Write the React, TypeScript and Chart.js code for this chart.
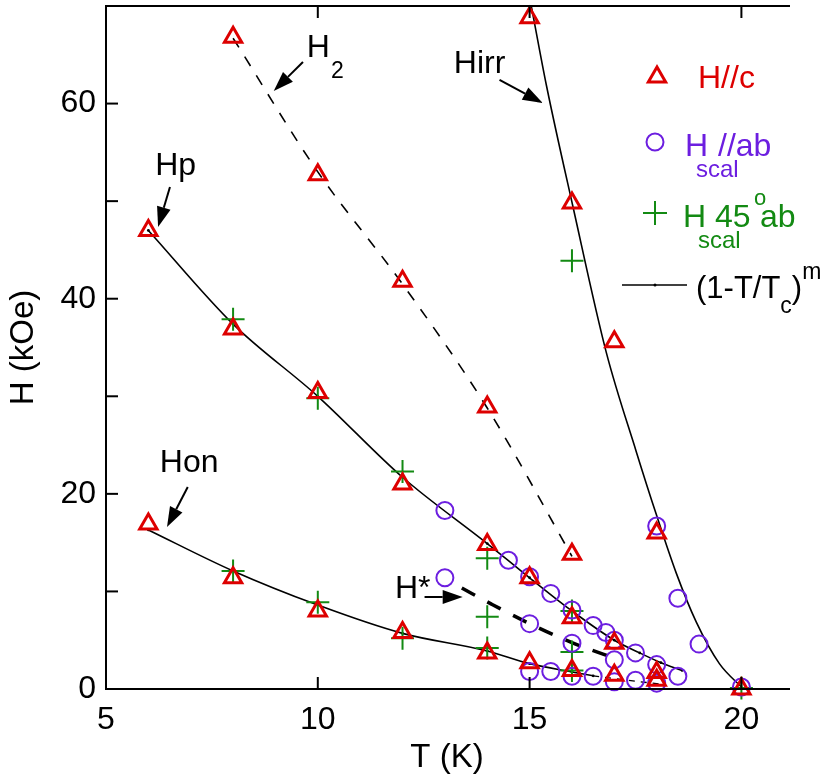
import React, { useEffect, useRef } from 'react';
import { Chart, registerables } from 'chart.js';
Chart.register(...registerables);

const FONT = "'Liberation Sans', Arial, Helvetica, sans-serif";
const RED = '#dd0000';
const PURPLE = '#6c1ee0';
const GREEN = '#138a13';

// H//c (red triangles)
const hcT = [6, 6, 8, 8, 8, 10, 10, 10, 12, 12, 12, 14, 14, 14, 15, 15, 15, 16, 16, 16, 16, 17, 17, 17, 18, 18, 18, 20];
const hcH = [47.0, 16.9, 66.8, 36.9, 11.4, 52.7, 30.4, 8.0, 41.8, 21.0, 5.8, 28.9, 14.8, 3.7, 68.8, 11.4, 2.7, 49.8, 13.8, 7.3, 1.9, 35.6, 4.7, 1.4, 16.0, 1.7, 0.9, 0.0];

// H_scal //ab (purple circles)
const habT = [13, 13, 14.5, 15, 15, 15, 15.5, 15.5, 16, 16, 16, 16.5, 16.5, 16.8, 17, 17, 17, 17.5, 17.5, 18, 18, 18, 18.5, 18.5, 19, 20];
const habH = [18.3, 11.4, 13.2, 11.5, 6.7, 1.8, 9.8, 1.8, 8.1, 4.7, 1.3, 6.5, 1.3, 5.8, 5.0, 3.0, 0.75, 3.7, 0.9, 16.7, 2.5, 0.6, 9.3, 1.3, 4.6, 0.2];

// H_scal 45deg ab (green pluses)
const h45T = [8, 8, 10, 10, 12, 12, 14, 14, 14, 16, 16, 16, 16, 20];
const h45H = [37.9, 12.1, 29.8, 8.9, 22.3, 5.2, 13.4, 7.4, 4.2, 43.9, 8.0, 3.8, 1.9, 0.1];

// fitted curves (1-T/Tc)^m
const hpT = [6, 8, 10, 12, 14, 15, 16, 17, 17.6, 18.1, 18.6];
const hpH = [47.0, 37.4, 30.0, 21.7, 14.9, 11.4, 8.0, 5.0, 3.7, 2.7, 1.9];
const honT = [6, 8, 10, 12, 14, 15, 16, 16.5];
const honH = [16.3, 12.1, 8.6, 5.7, 3.9, 2.6, 1.75, 1.35];
const honTailT = [16.5, 17.3, 18.2];
const honTailH = [1.35, 0.9, 0.45];
const hirrT = [15.04, 15.4, 16.02, 16.81, 17.52, 17.99, 18.46, 18.93, 19.48, 20.05];
const hirrH = [70, 61.8, 49.5, 34.5, 24.3, 17.9, 11.9, 6.9, 2.6, 0];
const h2T = [8, 10, 12, 14, 16];
const h2H = [66.7, 53.0, 41.5, 28.8, 13.6];
const hStarT = [13.4, 14.1, 15.0, 16.0, 17.1];
const hStarH = [10.35, 8.7, 6.7, 4.75, 3.0];

const xTicks = [5, 10, 15, 20];
const yTickLabels = [0, 20, 40, 60];

const pts = (xs: number[], ys: number[]) => xs.map((x, i) => ({ x, y: ys[i] }));

const notes = [
  { text: 'Hirr', T: 13.21, H: 63.1 },
  { text: 'Hp', T: 6.16, H: 52.7 },
  { text: 'Hon', T: 6.27, H: 22.2 },
  { text: 'H*', T: 11.82, H: 9.33 },
];
const arrows = [
  { from: [14.29, 62.42], to: [15.31, 60.06] },
  { from: [9.65, 64.26], to: [8.96, 61.29] },
  { from: [6.51, 51.45], to: [6.23, 47.35] },
  { from: [6.93, 20.7], to: [6.44, 16.6] },
  { from: [12.52, 9.43], to: [13.42, 9.43] },
];

function drawArrow(ctx: CanvasRenderingContext2D, x1: number, y1: number, x2: number, y2: number) {
  const ang = Math.atan2(y2 - y1, x2 - x1);
  const hl = 20, hw = 7;
  const bx = x2 - hl * Math.cos(ang), by = y2 - hl * Math.sin(ang);
  ctx.beginPath();
  ctx.moveTo(x1, y1);
  ctx.lineTo(bx, by);
  ctx.lineWidth = 2;
  ctx.strokeStyle = '#000';
  ctx.stroke();
  ctx.beginPath();
  ctx.moveTo(x2, y2);
  ctx.lineTo(bx + hw * Math.sin(ang), by - hw * Math.cos(ang));
  ctx.lineTo(bx - hw * Math.sin(ang), by + hw * Math.cos(ang));
  ctx.closePath();
  ctx.fillStyle = '#000';
  ctx.fill();
}

const overlay = {
  id: 'overlay',
  afterDraw(chart: any) {
    const ctx: CanvasRenderingContext2D = chart.ctx;
    const { left, right, top, bottom } = chart.chartArea;
    const xs = chart.scales.x, ys = chart.scales.y;
    const px = (t: number) => xs.getPixelForValue(t);
    const py = (h: number) => ys.getPixelForValue(h);
    ctx.save();
    ctx.strokeStyle = '#000';
    ctx.lineWidth = 2;
    ctx.setLineDash([]);
    const seg = (a: number, b: number, c: number, d: number) => {
      ctx.beginPath(); ctx.moveTo(a, b); ctx.lineTo(c, d); ctx.stroke();
    };
    // frame: left, bottom, top
    seg(left, top - 1, left, bottom + 1);
    seg(left - 1, bottom, right + 2, bottom);
    seg(left - 1, top, right + 2, top);
    // inward ticks
    xTicks.slice(1).forEach((v) => {
      const X = px(v);
      seg(X, bottom, X, bottom - 12);
      seg(X, top, X, top + 12);
    });
    for (let v = 10; v <= 60; v += 10) {
      const Y = py(v);
      seg(left, Y, left + 12, Y);
    }
    // axis titles
    ctx.fillStyle = '#000';
    ctx.font = `33px ${FONT}`;
    ctx.textAlign = 'center';
    ctx.textBaseline = 'alphabetic';
    ctx.fillText('T (K)', (left + right) / 2, 767);
    ctx.save();
    ctx.translate(33, (top + bottom) / 2);
    ctx.rotate(-Math.PI / 2);
    ctx.fillText('H (kOe)', 0, 0);
    ctx.restore();

    // annotations
    ctx.textAlign = 'left';
    ctx.font = `32px ${FONT}`;
    notes.forEach((n) => ctx.fillText(n.text, px(n.T), py(n.H)));
    // H2 with subscript
    {
      const x0 = px(9.74), y0 = py(64.8);
      ctx.font = `32px ${FONT}`;
      ctx.fillText('H', x0, y0);
      const w = ctx.measureText('H').width;
      ctx.font = `23px ${FONT}`;
      ctx.fillText('2', x0 + w + 1, y0 + 21);
    }
    arrows.forEach((a) => drawArrow(ctx, px(a.from[0]), py(a.from[1]), px(a.to[0]), py(a.to[1])));

    // legend
    {
      const cx = 657, cy = 77, r = 10;
      ctx.beginPath();
      ctx.moveTo(cx, cy - r);
      ctx.lineTo(cx + r * 0.866, cy + r * 0.5);
      ctx.lineTo(cx - r * 0.866, cy + r * 0.5);
      ctx.closePath();
      ctx.strokeStyle = RED; ctx.lineWidth = 3; ctx.stroke();
      ctx.fillStyle = RED;
      ctx.font = `32px ${FONT}`;
      ctx.fillText('H//c', 698, 88);
    }
    {
      ctx.beginPath();
      ctx.arc(655, 142, 8.5, 0, Math.PI * 2);
      ctx.strokeStyle = PURPLE; ctx.lineWidth = 2; ctx.stroke();
      ctx.fillStyle = PURPLE;
      ctx.font = `32px ${FONT}`;
      ctx.fillText('H', 685, 156);
      ctx.fillText('//ab', 718, 156);
      ctx.font = `24px ${FONT}`;
      ctx.fillText('scal', 696, 177);
    }
    {
      ctx.strokeStyle = GREEN; ctx.lineWidth = 2;
      seg(643, 213, 667, 213);
      seg(655, 201, 655, 225);
      ctx.fillStyle = GREEN;
      ctx.font = `32px ${FONT}`;
      ctx.fillText('H', 683, 227);
      ctx.fillText('45', 715, 227);
      ctx.fillText('ab', 760, 227);
      ctx.font = `22px ${FONT}`;
      ctx.fillText('o', 754, 205);
      ctx.font = `24px ${FONT}`;
      ctx.fillText('scal', 698, 248);
    }
    {
      ctx.strokeStyle = '#000'; ctx.lineWidth = 1.5;
      seg(622, 285, 687, 285);
      ctx.fillStyle = '#000';
      ctx.beginPath(); ctx.arc(655, 285, 1.5, 0, Math.PI * 2); ctx.fill();
      let x = 696;
      ctx.font = `31px ${FONT}`;
      ctx.fillText('(1-T/T', x, 298);
      x += ctx.measureText('(1-T/T').width;
      ctx.font = `23px ${FONT}`;
      ctx.fillText('c', x, 313);
      x += ctx.measureText('c').width;
      ctx.font = `31px ${FONT}`;
      ctx.fillText(')', x, 298);
      x += ctx.measureText(')').width;
      ctx.font = `23px ${FONT}`;
      ctx.fillText('m', x, 279);
    }
    ctx.restore();
  },
};

export default function App() {
  const ref = useRef<HTMLCanvasElement>(null);
  useEffect(() => {
    document.body.style.margin = '0';
    const marker = (style: string, color: string, r: number, bw: number) => ({
      showLine: false,
      pointStyle: style,
      pointRadius: r,
      pointHoverRadius: r,
      pointBorderColor: color,
      pointBackgroundColor: 'rgba(0,0,0,0)',
      borderColor: color,
      pointBorderWidth: bw,
      clip: false as any,
    });
    const curve = (w: number, dash: number[], dot = 0) => ({
      showLine: true,
      pointRadius: dot,
      pointBackgroundColor: '#000',
      pointBorderWidth: 0,
      borderColor: '#000',
      borderWidth: w,
      borderDash: dash,
      cubicInterpolationMode: 'monotone' as const,
      fill: false,
    });
    const chart = new Chart(ref.current!, {
      type: 'scatter',
      data: {
        datasets: [
          { label: 'H//c', data: pts(hcT, hcH), ...marker('triangle', RED, 10, 3) },
          { label: 'H scal //ab', data: pts(habT, habH), ...marker('circle', PURPLE, 8.5, 2) },
          { label: 'H scal 45 ab', data: pts(h45T, h45H), ...marker('cross', GREEN, 11.5, 2) },
          { label: 'Hp', data: pts(hpT, hpH), ...curve(1.6, [], 1.4) },
          { label: 'Hon', data: pts(honT, honH), ...curve(1.6, [], 1.4) },
          { label: 'Hon tail', data: pts(honTailT, honTailH), ...curve(1.3, [6, 6]) },
          { label: 'Hirr', data: pts(hirrT, hirrH), ...curve(1.6, []) },
          { label: 'H2', data: pts(h2T, h2H), ...curve(1.6, [11, 11]) },
          { label: 'H*', data: pts(hStarT, hStarH), ...curve(3.5, [15, 14]) },
        ] as any,
      },
      options: {
        responsive: false,
        animation: false,
        devicePixelRatio: 1,
        layout: { autoPadding: false, padding: { top: 6, right: 42, left: 0, bottom: 0 } },
        plugins: { legend: { display: false }, tooltip: { enabled: false } },
        scales: {
          x: {
            type: 'linear',
            min: 5,
            max: 21.1,
            afterFit: (s: any) => { s.height = 92; s.paddingLeft = 0; s.paddingRight = 0; },
            grid: { display: false, drawTicks: false },
            border: { display: false },
            ticks: {
              stepSize: 5,
              includeBounds: false,
              autoSkip: false,
              maxRotation: 0,
              padding: 12,
              color: '#000',
              font: { size: 32, family: FONT },
              callback: (v: any) => (xTicks.includes(Number(v)) ? String(v) : ''),
            },
          },
          y: {
            type: 'linear',
            min: 0,
            max: 70,
            afterFit: (s: any) => { s.width = 106; s.paddingTop = 0; s.paddingBottom = 0; },
            grid: { display: false, drawTicks: false },
            border: { display: false },
            ticks: {
              stepSize: 10,
              includeBounds: false,
              autoSkip: false,
              padding: 10,
              color: '#000',
              font: { size: 32, family: FONT },
              callback: (v: any) => (yTickLabels.includes(Number(v)) ? String(v) : ''),
            },
          },
        },
      } as any,
      plugins: [overlay],
    });
    return () => chart.destroy();
  }, []);
  return (
    <div style={{ width: 830, height: 781 }}>
      <canvas ref={ref} width={830} height={781} style={{ display: 'block', width: '830px', height: '781px' }} />
    </div>
  );
}
